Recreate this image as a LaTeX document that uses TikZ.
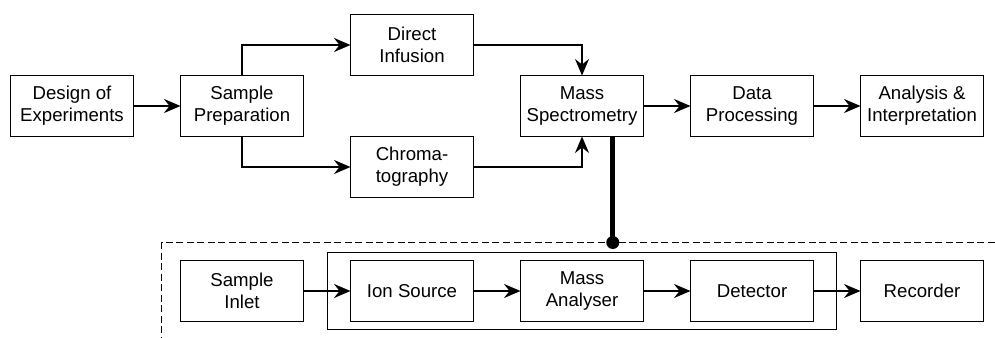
\documentclass[tikz,border=0pt]{standalone}
\usepackage{fontspec}
\setmainfont{Liberation Sans}
\usetikzlibrary{arrows.meta,positioning,fit,calc}

\begin{document}
\begin{tikzpicture}[
  node distance=2.48cm and 0.94cm,
  box/.style={draw, rectangle, line width=1.1pt, minimum width=2.46cm,
              minimum height=1.22cm, inner sep=2pt, outer sep=0pt, align=center,
              font=\fontsize{10.6}{12.6}\selectfont},
  arr/.style={-{Stealth[length=3.3mm, width=2.8mm, inset=1.1mm]}, line width=0.9pt},
  tap/.style={line width=2.6pt},
  frame/.style={draw, line width=1.1pt, inner xsep=0.46cm, inner ysep=0.16cm},
  zone/.style={line width=1pt, dash pattern=on 4pt off 2pt}
]

% Canvas
\coordinate (sw) at (0,-6.76);
\coordinate (ne) at (19.9,0);
\useasboundingbox (sw) rectangle (ne);

% Workflow nodes
\node[box] (design) at (1.44,-2.12) {Design of\\Experiments};
\node[box, right=of design] (prep) {Sample\\Preparation};
\node[box, above right=0cm and 0.94cm of prep] (infusion) {Direct\\Infusion};
\node[box, below right=0cm and 0.94cm of prep] (chroma) {Chroma-\\tography};
\node[box, below right=0cm and 0.94cm of infusion] (ms) {Mass\\Spectrometry};
\node[box, right=of ms] (proc) {Data\\Processing};
\node[box, right=of proc] (interp) {Analysis \&\\Interpretation};

% Instrument nodes
\node[box, below=of prep] (inlet) {Sample\\Inlet};
\node[box, right=of inlet] (ionsrc) {Ion Source};
\node[box, right=of ionsrc] (analyser) {Mass\\Analyser};
\node[box, right=of analyser] (detector) {Detector};
\node[box, right=of detector] (recorder) {Recorder};
\node[frame, fit=(ionsrc)(analyser)(detector)] (core) {};

% Workflow arrows
\draw[arr] (design) -- (prep);
\draw[arr] (prep.north) |- (infusion.west);
\draw[arr] (prep.south) |- (chroma.west);
\draw[arr] (infusion.east) -| (ms.north);
\draw[arr] (chroma.east) -| (ms.south);
\draw[arr] (ms) -- (proc);
\draw[arr] (proc) -- (interp);

% Instrument arrows
\draw[arr] (inlet) -- (ionsrc);
\draw[arr] (ionsrc) -- (analyser);
\draw[arr] (analyser) -- (detector);
\draw[arr] (detector) -- (recorder);

% Zoom-in region
\coordinate (dcorner) at ($(inlet.north west)+(-0.38,0.36)$);
\coordinate (dend) at (dcorner -| ne);
\coordinate (dbottom) at (dcorner |- sw);
\draw[zone] (dend) -- (dcorner) -- (dbottom);

\coordinate (msout) at ($(ms.south)!0.5!(ms.south east)$);
\coordinate (tapdot) at (msout |- dcorner);
\draw[tap] (msout) -- (tapdot);
\fill (tapdot) circle (0.13);

\end{tikzpicture}
\end{document}
